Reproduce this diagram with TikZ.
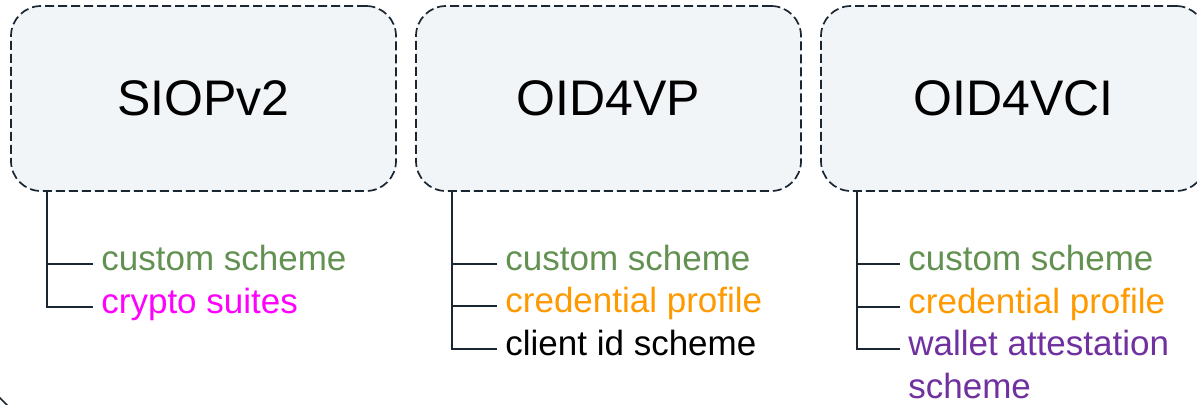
\documentclass[tikz,border=0pt]{standalone}
\usepackage{fontspec}
\setmainfont{Liberation Sans}
\usepackage{tikz}
\definecolor{boxfill}{HTML}{F1F5F8}
\definecolor{edgeline}{HTML}{1B2633}
\definecolor{schemegreen}{HTML}{629151}
\definecolor{profileorange}{HTML}{FF9900}
\definecolor{suitemagenta}{HTML}{FF00FF}
\definecolor{walletpurple}{HTML}{7030A0}

\begin{document}
\begin{tikzpicture}[
        x=0.5pt,y=-0.5pt,
        spec/.style={draw=edgeline,fill=boxfill,dash pattern=on 4.5pt off 2pt,line width=0.85pt,rounded corners=15pt,minimum width=192.5pt,minimum height=92.5pt,font=\fontsize{25}{30}\selectfont},
        item/.style={anchor=base west,inner sep=0pt,font=\fontsize{17.5}{21.5}\selectfont},
        branch/.style={draw=edgeline,line width=0.8pt}
    ]
    \useasboundingbox (0,0) rectangle (1197,404);
    \node[spec] (siop) at (203.5,98.5) {SIOPv2};
    \node[spec] (vp) at (608.5,98.5) {OID4VP};
    \node[spec] (vci) at (1013.5,98.5) {OID4VCI};
    \node[item,text=schemegreen] (siop1) at (101,270) {custom scheme};
    \node[item,text=suitemagenta] (siop2) at (101,313) {crypto suites};
    \node[item,text=schemegreen] (vp1) at (505,270) {custom scheme};
    \node[item,text=profileorange] (vp2) at (505,312) {credential profile};
    \node[item] (vp3) at (505,355) {client id scheme};
    \node[item,text=schemegreen] (vci1) at (908,270) {custom scheme};
    \node[item,text=profileorange] (vci2) at (908,313) {credential profile};
    \node[item,text=walletpurple] (vci3) at (908,355) {\begin{tabular}[t]{@{}l@{}}wallet attestation\\scheme\end{tabular}};
    \foreach \n in {siop1,siop2}
        \draw[branch] ([xshift=18.5pt]siop.south west) |- ([xshift=-4pt,yshift=3pt]\n.base west);
    \foreach \n in {vp1,vp2,vp3}
        \draw[branch] ([xshift=18.5pt]vp.south west) |- ([xshift=-4pt,yshift=3pt]\n.base west);
    \foreach \n in {vci1,vci2,vci3}
        \draw[branch] ([xshift=18.5pt]vci.south west) |- ([xshift=-4pt,yshift=3pt]\n.base west);
    \draw[branch] (-4,394) -- (8,406);
\end{tikzpicture}
\end{document}
